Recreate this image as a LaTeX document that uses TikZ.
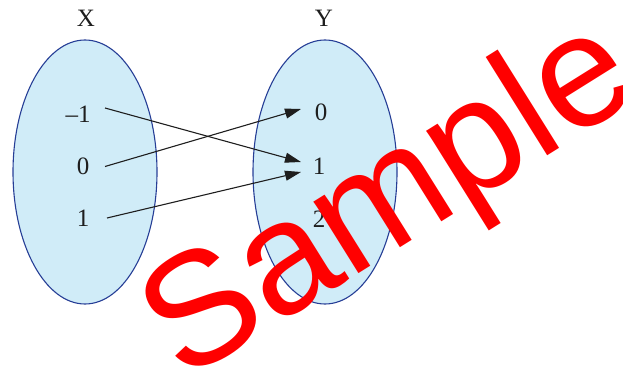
\documentclass[tikz,border=0pt]{standalone}
\usepackage{fontspec}
\setmainfont{Liberation Serif}
\newfontfamily\wmfont{Liberation Sans}
\usetikzlibrary{shapes.geometric,arrows.meta}
\definecolor{setfill}{RGB}{208,236,248}
\definecolor{setdraw}{RGB}{38,62,150}
\definecolor{arrowcol}{RGB}{30,30,30}
\definecolor{wmred}{RGB}{255,0,0}
\begin{document}
\begin{tikzpicture}[x=1pt,y=1pt,
  setshape/.style={ellipse, draw=setdraw, fill=setfill, line width=1.1pt, minimum width=144pt, minimum height=264pt, inner sep=0pt},
  num/.style={inner sep=0pt, text=arrowcol, font=\fontsize{25}{30}\selectfont},
  lab/.style={inner sep=0pt, text=arrowcol, font=\fontsize{25}{30}\selectfont},
  arr/.style={draw=arrowcol, line width=1.1pt, -{Triangle[length=16pt,width=10pt]}}]
\useasboundingbox (0,0) rectangle (623,365);
\node[setshape] (SX) at (85,193) {};
\node[setshape] (SY) at (325,193) {};
\node[lab] (LX) at (86,347) {X};
\node[lab] (LY) at (324,347) {Y};
\node[num] (a1) at (78,251) {–1};
\node[num] (a2) at (83,198.5) {0};
\node[num] (a3) at (83,147) {1};
\node[num] (b1) at (321,253) {0};
\node[num] (b2) at (319,199) {1};
\node[num] (b3) at (319,146) {2};
\draw[arr] ([shift={(27,6)}]a1.center) -- ([shift={(-18,4)}]b2.center);
\draw[arr] ([shift={(22,0)}]a2.center) -- ([shift={(-20,3)}]b1.center);
\draw[arr] ([shift={(24,0)}]a3.center) -- ([shift={(-18,-6)}]b2.center);
\node[anchor=base, rotate=32, inner sep=0pt, text=wmred, font=\wmfont\fontsize{160}{170}\selectfont] (wm) at (414,126) {Sample};
\end{tikzpicture}
\end{document}
